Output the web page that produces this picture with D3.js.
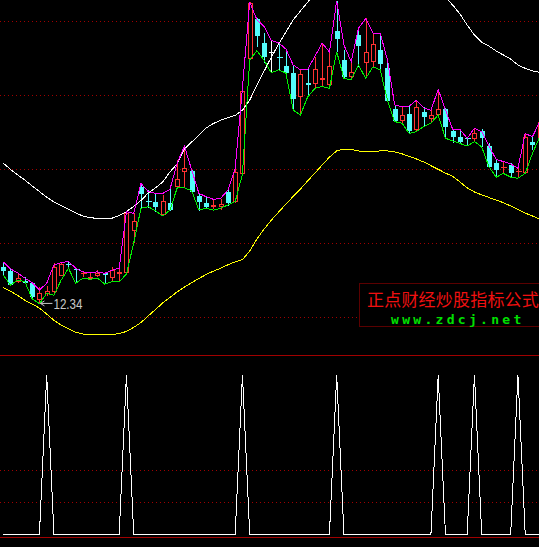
<!DOCTYPE html>
<html>
<head>
<meta charset="utf-8">
<script src="https://cdn.jsdelivr.net/npm/d3@7"></script>
<style>
  html, body { margin: 0; padding: 0; background: #000; overflow: hidden; }
  svg { display: block; }
</style>
</head>
<body>
<svg id="chart" width="539" height="547"></svg>
<script>
// ---- daily bars (price) ----
const opens = [
  13.35,13.25,12.95,12.97,12.93,12.46,12.62,12.68,13.12,13.43,
  13.30,13.15,13.03,13.11,13.20,13.05,13.16,13.18,14.32,15.51,
  15.14,15.10,14.76,15.07,15.51,15.93,15.95,15.28,15.09,14.96,
  14.96,15.37,15.12,15.86,18.96,20.05,19.41,19.17,19.03,18.78,
  18.60,17.95,18.33,18.30,18.41,18.27,19.73,18.95,18.48,19.62,
  18.87,18.88,19.22,18.72,17.62,17.31,17.49,17.05,17.55,17.36,
  17.47,17.61,17.04,16.86,16.84,16.82,17.03,16.62,16.15,16.02,
  16.11,15.93,15.90,16.74,16.80];
const highs = [
  13.49,13.30,13.19,13.08,12.95,12.81,12.84,13.45,13.50,13.51,
  13.32,13.24,13.19,13.27,13.22,13.36,13.35,14.85,14.82,15.61,
  15.43,15.34,15.30,15.45,16.24,16.62,15.97,15.36,15.25,15.18,
  15.18,15.45,16.05,18.19,20.50,20.07,19.68,19.47,19.40,19.24,
  18.81,18.68,18.69,19.03,19.40,19.17,20.55,19.22,18.90,19.80,
  20.07,19.67,19.67,18.99,17.73,17.68,17.70,17.86,17.68,17.59,
  18.15,17.65,17.07,17.07,16.86,17.10,17.07,16.70,16.26,16.20,
  16.15,16.03,16.96,16.87,17.30];
const lows = [
  13.14,12.84,12.92,12.88,12.50,12.34,12.57,12.59,13.11,13.30,
  12.92,13.08,13.00,13.07,12.89,12.95,12.95,13.16,14.00,14.94,
  14.94,14.83,14.73,14.86,15.49,15.49,15.35,14.87,14.91,14.91,
  14.89,15.00,15.08,15.84,18.95,19.31,18.86,18.60,18.68,18.46,
  17.59,17.46,17.95,18.18,18.22,18.18,19.17,18.45,18.41,18.76,
  18.49,18.73,18.66,17.84,17.27,17.22,16.96,17.01,17.14,17.24,
  17.42,16.83,16.71,16.69,16.62,16.74,16.59,16.05,15.78,15.86,
  15.79,15.78,15.88,16.51,16.78];
const closes = [
  13.24,12.86,13.05,12.93,12.54,12.64,12.70,13.36,13.43,13.41,
  13.27,13.18,13.09,13.20,13.13,13.27,13.21,14.80,14.59,15.32,
  15.11,14.98,15.14,14.89,15.73,16.02,15.39,15.10,14.98,15.03,
  15.05,15.09,15.91,18.11,20.49,19.59,19.04,19.17,19.01,18.60,
  17.89,18.56,18.26,18.69,18.45,18.78,19.51,18.49,18.63,19.33,
  19.15,19.38,18.83,17.85,17.30,17.46,17.04,17.67,17.41,17.45,
  17.61,17.14,16.86,16.74,16.82,16.96,16.85,16.06,15.97,16.05,
  15.90,15.95,16.87,16.65,17.28];

// ---- indicator lines on the price panel ----
const upperTrack = [
  13.49,13.30,13.19,13.05,12.93,12.73,12.91,13.41,13.47,13.50,
  13.32,13.22,13.20,13.22,13.18,13.26,13.32,14.85,14.80,15.61,
  15.39,15.34,15.34,15.45,16.16,16.62,15.97,15.34,15.25,15.18,
  15.21,15.43,16.02,18.19,20.51,20.03,19.85,19.47,19.41,19.24,
  18.81,18.68,18.69,19.05,19.40,19.16,20.55,19.35,18.90,19.80,
  20.07,19.67,19.67,18.95,17.73,17.68,17.70,17.86,17.65,17.59,
  18.15,17.60,17.07,17.07,16.83,17.10,17.01,16.62,16.26,16.20,
  16.14,16.02,16.96,16.87,17.28];
const lowerTrack = [
  13.14,12.86,13.00,12.95,12.49,12.36,12.64,12.59,13.00,13.32,
  12.91,13.05,13.02,13.05,12.89,12.95,12.95,13.16,14.00,14.94,
  14.98,14.87,14.73,14.89,15.49,15.49,15.41,14.89,14.94,14.89,
  14.94,15.03,15.12,15.86,18.95,19.20,18.93,18.60,18.68,18.59,
  17.59,17.46,17.95,18.18,18.23,18.18,19.17,18.45,18.41,18.81,
  18.45,18.76,18.68,17.86,17.28,17.24,16.96,17.01,17.15,17.24,
  17.46,16.83,16.76,16.69,16.62,16.74,16.60,16.06,15.78,15.88,
  15.78,15.75,15.88,16.42,16.87];
const bandUpper = [
  16.16,15.99,15.84,15.70,15.54,15.39,15.24,15.11,15.01,14.91,
  14.81,14.73,14.68,14.67,14.67,14.67,14.74,14.85,14.99,15.15,
  15.35,15.49,15.65,15.92,16.14,16.54,16.73,16.92,17.11,17.23,
  17.32,17.39,17.45,17.59,17.86,18.27,18.65,19.03,19.38,19.70,
  20.03,20.27,20.51,20.73,20.95,21.14,21.32,21.49,21.62,21.73,
  21.81,21.86,21.89,21.89,21.84,21.76,21.65,21.51,21.32,21.11,
  20.89,20.65,20.43,20.19,19.89,19.62,19.43,19.32,19.19,19.08,
  18.97,18.81,18.72,18.65,18.61];
const bandLower = [
  12.80,12.70,12.58,12.45,12.35,12.24,12.08,11.91,11.78,11.68,
  11.59,11.54,11.53,11.52,11.52,11.53,11.55,11.61,11.72,11.85,
  12.03,12.20,12.38,12.53,12.68,12.81,12.93,13.04,13.15,13.24,
  13.32,13.41,13.49,13.55,13.78,14.11,14.38,14.62,14.84,15.05,
  15.26,15.46,15.68,15.89,16.11,16.32,16.49,16.54,16.53,16.49,
  16.46,16.46,16.49,16.49,16.46,16.41,16.34,16.27,16.19,16.09,
  15.99,15.89,15.80,15.65,15.49,15.38,15.30,15.23,15.16,15.09,
  15.00,14.91,14.81,14.73,14.65];

// ---- signal panel (0 / 1 per bar) ----
const signal = [
  0,0,0,0,0,0,1,0,0,0,
  0,0,0,0,0,0,0,1,0,0,
  0,0,0,0,0,0,0,0,0,0,
  0,0,0,1,0,0,0,0,0,0,
  0,0,0,0,0,0,1,0,0,0,
  0,0,0,0,0,0,0,0,0,0,
  1,0,0,0,0,1,0,0,0,0,
  0,1,0,0,0];

// ---- grid levels and captions ----
const priceGrid = [12, 14, 16, 18, 20];
const signalGrid = [0.2, 0.4];
const brandName = "正点财经炒股指标公式";
const brandSite = "www.zdcj.net";

// ---- colours ----
const C = {
  up: "#ff3232", down: "#54fcfc", doji: "#ffffff",
  upper: "#ff00ff", lower: "#00f000", bandHi: "#ffffff", bandLo: "#ffff00",
  grid: "#a00000", frame: "#a00000", signal: "#ffffff", label: "#c8c8c8"
};

const W = 539, H = 547;
const PRICE_BOTTOM = 354, DIVIDER = 355.5, SIGNAL_FLOOR = 537.5;

const svg = d3.select("#chart");
svg.append("rect").attr("width", W).attr("height", H).attr("fill", "#000");

const idx = d3.range(opens.length);
const x = d3.scalePoint().domain(idx).range([3.2, 539.7]);
const y = d3.scaleLinear().domain([11, 20]).range([PRICE_BOTTOM, 21]);
const ys = d3.scaleLinear().domain([0, 1]).range([534, 375]);

svg.append("clipPath").attr("id", "pricePanel")
  .append("rect").attr("x", 0).attr("y", 0).attr("width", W).attr("height", PRICE_BOTTOM);

// dotted grid lines
const px = v => Math.round(v) + 0.5;
svg.append("g").selectAll("line").data(priceGrid).join("line")
  .attr("x1", 0).attr("x2", W)
  .attr("y1", d => px(y(d))).attr("y2", d => px(y(d)))
  .attr("stroke", C.grid).attr("stroke-dasharray", "1,3");
svg.append("g").selectAll("line").data(signalGrid).join("line")
  .attr("x1", 0).attr("x2", W)
  .attr("y1", d => px(ys(d))).attr("y2", d => px(ys(d)))
  .attr("stroke", C.grid).attr("stroke-dasharray", "1,3");

// panel divider and signal-panel floor
svg.append("line").attr("x1", 0).attr("x2", W).attr("y1", DIVIDER).attr("y2", DIVIDER)
  .attr("stroke", C.frame);
svg.append("line").attr("x1", 0).attr("x2", W).attr("y1", SIGNAL_FLOOR).attr("y2", SIGNAL_FLOOR)
  .attr("stroke", C.frame);

const price = svg.append("g").attr("clip-path", "url(#pricePanel)");

// candlesticks
const candles = price.append("g").attr("shape-rendering", "crispEdges");
idx.forEach(i => {
  const o = opens[i], c = closes[i], h = highs[i], l = lows[i];
  const cx = Math.round(x(i)) + 0.5;
  const yo = y(o), yc = y(c), yh = y(h), yl = y(l);
  const top = Math.round(Math.min(yo, yc)), bot = Math.round(Math.max(yo, yc));
  const col = c === o ? C.doji : (c > o ? C.up : C.down);
  const g = candles.append("g").attr("stroke", col);
  if (bot - top < 2) {
    g.append("line").attr("x1", cx).attr("x2", cx).attr("y1", Math.round(yh)).attr("y2", Math.round(yl));
    g.append("line").attr("x1", cx - 3).attr("x2", cx + 3).attr("y1", top + 0.5).attr("y2", top + 0.5);
  } else if (c > o) {
    g.append("line").attr("x1", cx).attr("x2", cx).attr("y1", Math.round(yh)).attr("y2", top);
    g.append("line").attr("x1", cx).attr("x2", cx).attr("y1", bot).attr("y2", Math.round(yl));
    g.append("rect").attr("x", cx - 2).attr("y", top + 0.5)
      .attr("width", 4).attr("height", bot - top - 1).attr("fill", "#000");
  } else {
    g.append("line").attr("x1", cx).attr("x2", cx).attr("y1", Math.round(yh)).attr("y2", Math.round(yl));
    g.append("rect").attr("x", cx - 2.5).attr("y", top)
      .attr("width", 5).attr("height", bot - top).attr("fill", col).attr("stroke", "none");
  }
});

// indicator lines
const lineOf = (scale) => d3.line().x((d, i) => x(i)).y(d => scale(d));
[[bandUpper, C.bandHi], [bandLower, C.bandLo], [upperTrack, C.upper], [lowerTrack, C.lower]]
  .forEach(([data, col]) => {
    price.append("path").datum(data)
      .attr("d", lineOf(y)).attr("fill", "none")
      .attr("stroke", col).attr("stroke-width", 1)
      .attr("shape-rendering", "crispEdges");
  });

// lowest-low marker
const lowIdx = d3.minIndex(lows);
const lowX = x(lowIdx) + 1, lowY = y(lows[lowIdx]) - 1;
const marker = svg.append("g").attr("stroke", C.label).attr("fill", "none");
marker.append("line").attr("x1", lowX).attr("x2", lowX + 12).attr("y1", lowY).attr("y2", lowY);
marker.append("path").attr("d", `M${lowX + 4},${lowY - 2.5}L${lowX},${lowY}L${lowX + 4},${lowY + 2.5}`);
svg.append("text")
  .attr("x", lowX + 13).attr("y", lowY + 5.5)
  .attr("font-family", "'Liberation Sans', Arial, sans-serif")
  .attr("font-size", 14).attr("fill", C.label)
  .attr("textLength", 29).attr("lengthAdjust", "spacingAndGlyphs")
  .text(d3.format(".2f")(lows[lowIdx]));

// brand box
svg.append("rect").attr("x", 359.5).attr("y", 283.5).attr("width", 190).attr("height", 43)
  .attr("fill", "#000").attr("stroke", "#5a0000");
svg.append("text").attr("x", 367).attr("y", 305.5)
  .attr("font-family", "'Noto Sans CJK SC', sans-serif").attr("font-size", 17)
  .attr("letter-spacing", 0.2).attr("fill", "#f01010").text(brandName);
svg.append("text").attr("x", 391).attr("y", 323.5)
  .attr("font-family", "'DejaVu Sans Mono', 'Liberation Mono', monospace").attr("font-size", 13)
  .attr("font-weight", "bold").attr("letter-spacing", 3.3).attr("fill", "#00e000").text(brandSite);

// signal spikes
svg.append("path").datum(signal)
  .attr("d", lineOf(ys)).attr("fill", "none")
  .attr("stroke", C.signal).attr("stroke-width", 1)
  .attr("shape-rendering", "crispEdges");
</script>
</body>
</html>
